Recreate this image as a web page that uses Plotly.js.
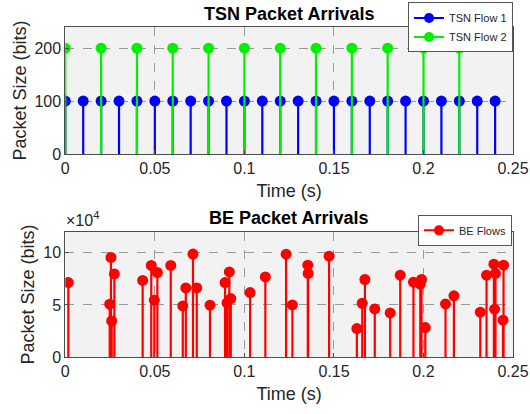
<!DOCTYPE html>
<html>
<head>
<meta charset="utf-8">
<script src="https://cdn.plot.ly/plotly-3.0.1.min.js"></script>
<style>html,body{margin:0;padding:0;background:#fff;}#chart{width:530px;height:414px;}</style>
</head>
<body>
<div id="chart"></div>
<script>
// TSN flows
const tsn1Times = [0,0.01,0.02,0.03,0.04,0.05,0.06,0.07,0.08,0.09,0.10,0.11,0.12,0.13,0.14,0.15,0.16,0.17,0.18,0.19,0.20,0.21,0.22,0.23,0.24];
const tsn1Sizes = [100,100,100,100,100,100,100,100,100,100,100,100,100,100,100,100,100,100,100,100,100,100,100,100,100];
const tsn2Times = [0,0.02,0.04,0.06,0.08,0.10,0.12,0.14,0.16,0.18,0.20,0.22];
const tsn2Sizes = [200,200,200,200,200,200,200,200,200,200,200,200];
// BE flows
const beTimes = [0.0017,0.0255,0.0248,0.0259,0.0274,0.0432,0.0480,0.0497,0.0514,0.0589,0.0656,0.0673,0.0713,0.0734,0.0808,0.0892,0.0903,0.0916,0.0924,0.1032,0.1117,0.1233,0.1268,0.1354,0.1356,0.1473,0.1628,0.1658,0.1673,0.1728,0.1814,0.1870,0.1944,0.1982,0.1989,0.2010,0.2123,0.2170,0.2317,0.2352,0.2393,0.2402,0.2397,0.2444,0.2447];
const beSizes = [71500,95600,50700,34600,79800,73500,87900,54500,81100,87900,49000,66300,98800,66300,49700,71500,51900,81700,56100,61900,76900,98700,50000,88200,80200,96800,27300,51600,74400,46200,42300,78600,71800,69900,74400,28300,51000,58700,43000,78600,89100,80200,45900,35300,88200];
const xTickVals = [0,0.05,0.1,0.15,0.2,0.25];
const xTickText = ['0','0.05','0.1','0.15','0.2','0.25'];
const topTickVals = [0,100,200];
const botTickVals = [0,50000,100000];
const botTickText = ['0','5','10'];

function stems(xs, ys){
  const sx=[], sy=[];
  xs.forEach((x,i)=>{ sx.push(x,x,null); sy.push(0,ys[i],null); });
  return {x:sx, y:sy};
}
function stemTraces(xs, ys, color, name, xa, ya, legend){
  const s = stems(xs, ys);
  return [
    {x:s.x, y:s.y, mode:'lines', line:{color:color, width:2.2}, xaxis:xa, yaxis:ya, showlegend:false, hoverinfo:'skip'},
    {x:xs, y:ys, mode:'markers', marker:{color:color, size:11}, xaxis:xa, yaxis:ya, showlegend:false},
    {x:[null], y:[null], mode:'lines+markers', name:name, line:{color:color, width:2}, marker:{color:color, size:10}, xaxis:xa, yaxis:ya, legend:legend}
  ];
}
const data = [].concat(
  stemTraces(tsn1Times, tsn1Sizes, '#0000ff', 'TSN Flow 1', 'x', 'y', 'legend'),
  stemTraces(tsn2Times, tsn2Sizes, '#00f000', 'TSN Flow 2', 'x', 'y', 'legend'),
  stemTraces(beTimes, beSizes, '#ff0000', 'BE Flows', 'x2', 'y2', 'legend2')
);
const fontFam = 'Liberation Sans, Arial, sans-serif';
const axisCommon = {
  showgrid:true, gridcolor:'#9a9a9a', griddash:'dash', gridwidth:1,
  showline:true, linecolor:'#4d4d4d', linewidth:1, mirror:true,
  ticks:'inside', ticklen:4, tickcolor:'#4d4d4d', zeroline:false,
  tickfont:{family:fontFam, size:16, color:'#262626'}
};
const titleFont = {family:fontFam, size:18, color:'#262626'};
const layout = {
  width:530, height:414,
  margin:{l:0, r:0, t:0, b:0},
  paper_bgcolor:'#ffffff', plot_bgcolor:'#f2f2f2',
  font:{family:fontFam, color:'#262626'},
  xaxis:Object.assign({}, axisCommon, {domain:[0.1232,0.968], range:[0,0.25], tickvals:xTickVals, ticktext:xTickText, anchor:'y',
    title:{text:'Time (s)', font:titleFont, standoff:8}}),
  yaxis:Object.assign({}, axisCommon, {domain:[0.628,0.9348], range:[0,240], tickvals:topTickVals, anchor:'x',
    title:{text:'Packet Size (bits)', font:titleFont, standoff:3}}),
  xaxis2:Object.assign({}, axisCommon, {domain:[0.1232,0.968], range:[0,0.25], tickvals:xTickVals, ticktext:xTickText, anchor:'y2',
    title:{text:'Time (s)', font:titleFont, standoff:8}}),
  yaxis2:Object.assign({}, axisCommon, {domain:[0.1377,0.4396], range:[0,120000], tickvals:botTickVals, ticktext:botTickText, anchor:'x2',
    title:{text:'Packet Size (bits)', font:titleFont, standoff:3}}),
  legend:{x:0.968, xanchor:'right', y:0.994, yanchor:'top', bgcolor:'#ffffff', bordercolor:'#555', borderwidth:1,
    font:{family:fontFam, size:11, color:'#262626'}, tracegroupgap:0, itemwidth:30},
  legend2:{x:0.966, xanchor:'right', y:0.481, yanchor:'top', bgcolor:'#ffffff', bordercolor:'#555', borderwidth:1,
    font:{family:fontFam, size:11, color:'#262626'}, itemwidth:30},
  annotations:[
    {text:'<b>TSN Packet Arrivals</b>', xref:'paper', yref:'paper', x:0.545, y:1-14/414, xanchor:'center', yanchor:'middle', showarrow:false, font:{family:fontFam, size:18, color:'#000'}},
    {text:'<b>BE Packet Arrivals</b>', xref:'paper', yref:'paper', x:0.545, y:1-218/414, xanchor:'center', yanchor:'middle', showarrow:false, font:{family:fontFam, size:18, color:'#000'}},
    {text:'×10<sup>4</sup>', xref:'paper', yref:'paper', x:64/530, y:1-219/414, xanchor:'left', yanchor:'middle', showarrow:false, font:{family:fontFam, size:16, color:'#262626'}}
  ]
};
Plotly.newPlot('chart', data, layout, {displayModeBar:false, staticPlot:true});
</script>
</body>
</html>
